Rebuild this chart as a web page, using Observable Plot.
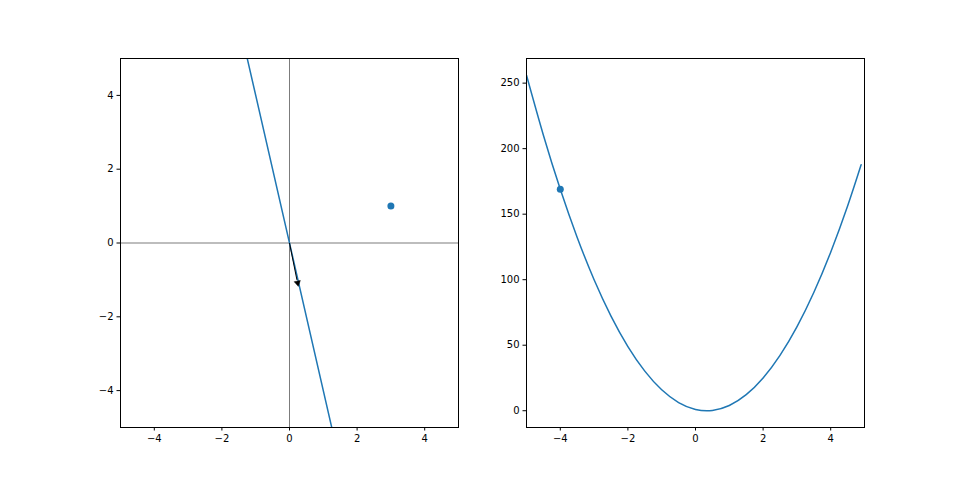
<!DOCTYPE html>
<html>
<head>
<meta charset="utf-8">
<script src="https://cdn.jsdelivr.net/npm/d3@7"></script>
<script src="https://cdn.jsdelivr.net/npm/@observablehq/plot@0.6"></script>
<style>
  html, body { margin: 0; padding: 0; background: #fff; }
  #wrap { display: flex; width: 960px; height: 480px; }
  svg { font-family: "DejaVu Sans", sans-serif; }
</style>
</head>
<body>
<div id="wrap"></div>
<script>
// Left panel data
const ticksX = [-4, -2, 0, 2, 4];
const ticksLeftY = [-4, -2, 0, 2, 4];
const boundaryX = [-2, 2];
const boundaryY = [8, -8];
const arrowX = [0, 0.22];
const arrowY = [0, -1.0];
const arrowTip = [0.24, -1.08];
const pointLeft = [3, 1];

// Right panel data (loss curve)
const lossW = [-5, -4.5, -4, -3.5, -3, -2.5, -2, -1.5, -1, -0.5, 0, 0.5, 1, 1.5, 2, 2.5, 3, 3.5, 4, 4.5, 4.9];
const lossL = [256, 210.25, 169, 132.25, 100, 72.25, 49, 30.25, 16, 6.25, 1, 0.25, 4, 12.25, 25, 42.25, 64, 90.25, 121, 156.25, 187.69];
const ticksRightY = [0, 50, 100, 150, 200, 250];
const pointRight = [-4, 169];

const blue = "#1f77b4";
const fmt = d3.format("d");

const left = Plot.plot({
  width: 480, height: 480,
  marginLeft: 120, marginRight: 22, marginTop: 58, marginBottom: 53,
  style: { fontSize: "10px", fontFamily: "DejaVu Sans, sans-serif", color: "black", background: "white" },
  x: { domain: [-5, 5] },
  y: { domain: [-5, 5] },
  marks: [
    Plot.ruleX([0], { stroke: "#444", strokeWidth: 0.7 }),
    Plot.ruleY([0], { stroke: "#444", strokeWidth: 0.7 }),
    Plot.line(boundaryX.map((x, i) => ({ x, y: boundaryY[i] })), { x: "x", y: "y", stroke: blue, strokeWidth: 1.5, clip: true }),
    Plot.link([{ x1: arrowX[0], y1: arrowY[0], x2: arrowX[1], y2: arrowY[1] }], { x1: "x1", y1: "y1", x2: "x2", y2: "y2", stroke: "black", strokeWidth: 1 }),
    Plot.dot([{ x: arrowTip[0], y: arrowTip[1] }], { x: "x", y: "y", symbol: "triangle", r: 2.3, fill: "black", stroke: "black", strokeWidth: 0.5, rotate: 169 }),
    Plot.dot([{ x: pointLeft[0], y: pointLeft[1] }], { x: "x", y: "y", r: 3.5, fill: blue }),
    Plot.frame({ stroke: "black", strokeWidth: 1 }),
    Plot.axisX(ticksX, { tickSize: 3.5, tickPadding: 3.5, tickFormat: fmt, label: null, fontSize: 10 }),
    Plot.axisY(ticksLeftY, { tickSize: 3.5, tickPadding: 3.5, tickFormat: fmt, label: null, fontSize: 10 })
  ]
});

const right = Plot.plot({
  width: 480, height: 480,
  marginLeft: 46, marginRight: 96, marginTop: 58, marginBottom: 53,
  style: { fontSize: "10px", fontFamily: "DejaVu Sans, sans-serif", color: "black", background: "white" },
  x: { domain: [-5, 5] },
  y: { domain: [-12.8, 268.8] },
  marks: [
    Plot.line(lossW.map((w, i) => ({ w, l: lossL[i] })), { x: "w", y: "l", stroke: blue, strokeWidth: 1.5, curve: "natural", clip: true }),
    Plot.dot([{ x: pointRight[0], y: pointRight[1] }], { x: "x", y: "y", r: 3.5, fill: blue }),
    Plot.frame({ stroke: "black", strokeWidth: 1 }),
    Plot.axisX(ticksX, { tickSize: 3.5, tickPadding: 3.5, tickFormat: fmt, label: null, fontSize: 10 }),
    Plot.axisY(ticksRightY, { tickSize: 3.5, tickPadding: 3.5, tickFormat: fmt, label: null, fontSize: 10 })
  ]
});

const wrap = document.getElementById("wrap");
wrap.appendChild(left);
wrap.appendChild(right);
</script>
</body>
</html>
